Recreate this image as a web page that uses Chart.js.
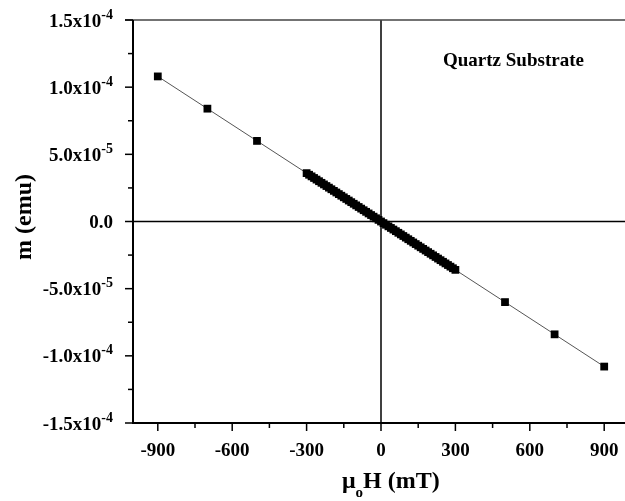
<!DOCTYPE html>
<html><head><meta charset="utf-8">
<script src="https://cdn.jsdelivr.net/npm/chart.js@4/dist/chart.umd.min.js"></script>
<style>html,body{margin:0;padding:0;background:#fff;overflow:hidden;width:625px;height:501px}#wrap{width:640px;height:501px}</style>
</head><body><div id="wrap"><canvas id="c" width="640" height="501"></canvas></div>
<script>
const fieldH = [-900,-700,-500,
  -300,-290,-280,-270,-260,-250,-240,-230,-220,-210,-200,-190,-180,-170,-160,-150,-140,-130,-120,-110,-100,-90,-80,-70,-60,-50,-40,-30,-20,-10,
  0,10,20,30,40,50,60,70,80,90,100,110,120,130,140,150,160,170,180,190,200,210,220,230,240,250,260,270,280,290,300,
  500,700,900];
const momentM = [1.08e-4,8.4e-5,6.0e-5,
  3.6e-5,3.48e-5,3.36e-5,3.24e-5,3.12e-5,3.0e-5,2.88e-5,2.76e-5,2.64e-5,2.52e-5,2.4e-5,2.28e-5,2.16e-5,2.04e-5,1.92e-5,1.8e-5,1.68e-5,1.56e-5,1.44e-5,1.32e-5,1.2e-5,1.08e-5,9.6e-6,8.4e-6,7.2e-6,6.0e-6,4.8e-6,3.6e-6,2.4e-6,1.2e-6,
  0,-1.2e-6,-2.4e-6,-3.6e-6,-4.8e-6,-6.0e-6,-7.2e-6,-8.4e-6,-9.6e-6,-1.08e-5,-1.2e-5,-1.32e-5,-1.44e-5,-1.56e-5,-1.68e-5,-1.8e-5,-1.92e-5,-2.04e-5,-2.16e-5,-2.28e-5,-2.4e-5,-2.52e-5,-2.64e-5,-2.76e-5,-2.88e-5,-3.0e-5,-3.12e-5,-3.24e-5,-3.36e-5,-3.48e-5,-3.6e-5,
  -6.0e-5,-8.4e-5,-1.08e-4];
const xMajorTicks = [-900,-600,-300,0,300,600,900];
const xMinorTicks = [-750,-450,-150,150,450,750];
const yMajorTicks = [1.5e-4,1.0e-4,5.0e-5,0,-5.0e-5,-1.0e-4,-1.5e-4];
const yMajorLabels = [["1.5x10","-4"],["1.0x10","-4"],["5.0x10","-5"],["0.0",""],["-5.0x10","-5"],["-1.0x10","-4"],["-1.5x10","-4"]];
const yMinorTicks = [1.25e-4,7.5e-5,2.5e-5,-2.5e-5,-7.5e-5,-1.25e-4];
const annotationText = "Quartz Substrate";

const F = "'Liberation Serif','Times New Roman',serif";
const pts = fieldH.map((h,i)=>({x:h,y:momentM[i]}));

const zeroLines = {
  id:'zeroLines',
  beforeDatasetsDraw(chart){
    const {ctx, chartArea:a, scales:{x,y}} = chart;
    ctx.save();
    ctx.strokeStyle='#000'; ctx.lineWidth=1.5;
    const x0=x.getPixelForValue(0), y0=y.getPixelForValue(0);
    ctx.beginPath(); ctx.moveTo(x0,a.top); ctx.lineTo(x0,a.bottom); ctx.stroke();
    ctx.beginPath(); ctx.moveTo(a.left,y0); ctx.lineTo(a.right,y0); ctx.stroke();
    ctx.restore();
  }
};

const axesPlugin = {
  id:'axesPlugin',
  afterDraw(chart){
    const {ctx, chartArea:a, scales:{x,y}} = chart;
    ctx.save();
    ctx.strokeStyle='#444'; ctx.lineWidth=1.5;
    ctx.beginPath(); ctx.moveTo(a.left-8,a.top); ctx.lineTo(a.right,a.top); ctx.stroke();
    ctx.beginPath(); ctx.moveTo(a.right,a.top); ctx.lineTo(a.right,a.bottom); ctx.stroke();
    ctx.strokeStyle='#000'; ctx.lineWidth=2;
    ctx.beginPath(); ctx.moveTo(a.left,a.top); ctx.lineTo(a.left,a.bottom+1); ctx.stroke();
    ctx.beginPath(); ctx.moveTo(a.left-1,a.bottom); ctx.lineTo(a.right,a.bottom); ctx.stroke();
    ctx.lineWidth=1.5;
    xMajorTicks.forEach(v=>{const p=x.getPixelForValue(v);ctx.beginPath();ctx.moveTo(p,a.bottom);ctx.lineTo(p,a.bottom+8);ctx.stroke();});
    xMinorTicks.forEach(v=>{const p=x.getPixelForValue(v);ctx.beginPath();ctx.moveTo(p,a.bottom);ctx.lineTo(p,a.bottom+5);ctx.stroke();});
    yMajorTicks.forEach(v=>{const p=y.getPixelForValue(v);ctx.beginPath();ctx.moveTo(a.left,p);ctx.lineTo(a.left-8,p);ctx.stroke();});
    yMinorTicks.forEach(v=>{const p=y.getPixelForValue(v);ctx.beginPath();ctx.moveTo(a.left,p);ctx.lineTo(a.left-5,p);ctx.stroke();});
    ctx.fillStyle='#000';
    ctx.font='bold 19px '+F; ctx.textAlign='center'; ctx.textBaseline='alphabetic';
    xMajorTicks.forEach(v=>{ctx.fillText(String(v), x.getPixelForValue(v), 456);});
    yMajorTicks.forEach((v,i)=>{
      const p=y.getPixelForValue(v);
      const [main,sup]=yMajorLabels[i];
      const right=113;
      ctx.font='bold 14px '+F;
      const sw = sup? ctx.measureText(sup).width : 0;
      ctx.textAlign='right';
      if(sup){ctx.fillText(sup,right,p-1.5);}
      ctx.font='bold 19px '+F;
      ctx.fillText(main,right-sw,p+6.5);
    });
    ctx.save();
    ctx.translate(31,217); ctx.rotate(-Math.PI/2);
    ctx.font='bold 24px '+F; ctx.textAlign='center'; ctx.textBaseline='alphabetic';
    ctx.fillText('m (emu)',0,0);
    ctx.restore();
    ctx.textAlign='left';
    let xx=342; const base=488;
    ctx.font='bold 24px '+F; ctx.fillText('\u03bc',xx,base); xx+=ctx.measureText('\u03bc').width;
    ctx.font='bold 15px '+F; ctx.fillText('o',xx,base+9); xx+=ctx.measureText('o').width;
    ctx.font='bold 24px '+F; ctx.fillText('H (mT)',xx,base);
    ctx.font='bold 19px '+F; ctx.textAlign='left';
    ctx.fillText(annotationText,443,66);
    ctx.restore();
  }
};

new Chart(document.getElementById('c'),{
  type:'scatter',
  data:{datasets:[{data:pts, showLine:true, borderColor:'#555', borderWidth:1,
    pointStyle:'rect', pointRadius:5.5, pointBackgroundColor:'#000', pointBorderColor:'#000', pointBorderWidth:0}]},
  options:{
    responsive:false, animation:false, events:[],
    layout:{padding:{left:133,top:20,right:11,bottom:78}},
    plugins:{legend:{display:false},tooltip:{enabled:false}},
    scales:{
      x:{type:'linear',min:-1000,max:1000,display:false},
      y:{type:'linear',min:-1.5e-4,max:1.5e-4,display:false}
    }
  },
  plugins:[zeroLines,axesPlugin]
});
</script></body></html>
